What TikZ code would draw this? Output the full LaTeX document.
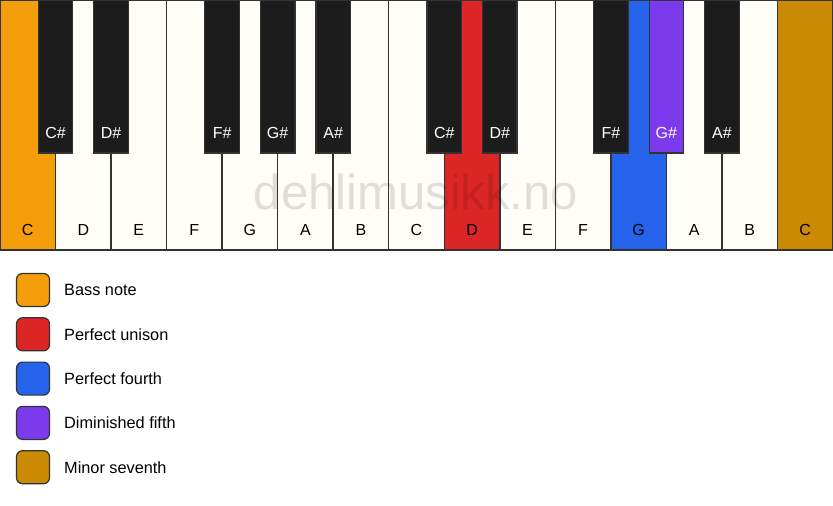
\documentclass[tikz,border=0pt]{standalone}
\usepackage{fontspec}
\setmainfont{Liberation Sans}
\definecolor{bassc}{HTML}{F59E0B}
\definecolor{unisonc}{HTML}{DC2626}
\definecolor{fourthc}{HTML}{2563EB}
\definecolor{dimc}{HTML}{7C3AED}
\definecolor{sevc}{HTML}{CA8A04}
\definecolor{ivory}{HTML}{FFFDF8}
\definecolor{ebony}{HTML}{1C1C1C}
\definecolor{edge}{HTML}{333333}
\begin{document}
\begin{tikzpicture}[x=1pt,y=-1pt,
  whitekey/.style={draw=edge,line width=1.4pt,fill=ivory,minimum width=55.53pt,minimum height=250pt,inner sep=0pt,outer sep=0pt,anchor=north west},
  blackkey/.style={draw=edge,line width=1.2pt,fill=ebony,minimum width=34.5pt,minimum height=153pt,inner sep=0pt,outer sep=0pt,anchor=north},
  wlabel/.style={font=\fontsize{16}{16}\selectfont,text=black,inner sep=0pt},
  blabel/.style={font=\fontsize{16}{16}\selectfont,text=white,inner sep=0pt},
  legbox/.style={draw=edge,line width=1.2pt,rounded corners=6pt,minimum width=33pt,minimum height=33pt,inner sep=0pt},
  legtext/.style={font=\fontsize{16.3}{16.3}\selectfont,anchor=west,inner sep=0pt}]
\useasboundingbox (0,0) rectangle (833,506);
\fill[white] (0,0) rectangle (833,506);
% white keys
\foreach \i/\n/\c in {0/C/bassc,1/D/ivory,2/E/ivory,3/F/ivory,4/G/ivory,5/A/ivory,6/B/ivory,7/C/ivory,8/D/unisonc,9/E/ivory,10/F/ivory,11/G/fourthc,12/A/ivory,13/B/ivory,14/C/sevc}{
  \node[whitekey,fill=\c] (w\i) at ({\i*55.533},0) {};
  \node[wlabel] (wl\i) at ([yshift=20pt]w\i.south) {\n};
}
% black keys
\foreach \i/\n/\c in {1/C\#/ebony,2/D\#/ebony,4/F\#/ebony,5/G\#/ebony,6/A\#/ebony,8/C\#/ebony,9/D\#/ebony,11/F\#/ebony,12/G\#/dimc,13/A\#/ebony}{
  \node[blackkey,fill=\c] (b\i) at ({\i*55.533},0) {};
  \node[blabel] (bl\i) at ([yshift=20pt]b\i.south) {\n};
}
% watermark
\node[font=\fontsize{49}{49}\selectfont,text=black,text opacity=0.12,inner sep=0pt] (wm) at (416,192) {dehlimusikk.no};
% legend
\foreach \k/\c/\t [count=\j from 0] in {a/bassc/Bass note,b/unisonc/Perfect unison,c/fourthc/Perfect fourth,d/dimc/Diminished fifth,e/sevc/Minor seventh}{
  \node[legbox,fill=\c] (lb\k) at (33,{290+\j*44.3}) {};
  \node[legtext] (lt\k) at (64,{290+\j*44.3}) {\t};
}
\end{tikzpicture}
\end{document}
